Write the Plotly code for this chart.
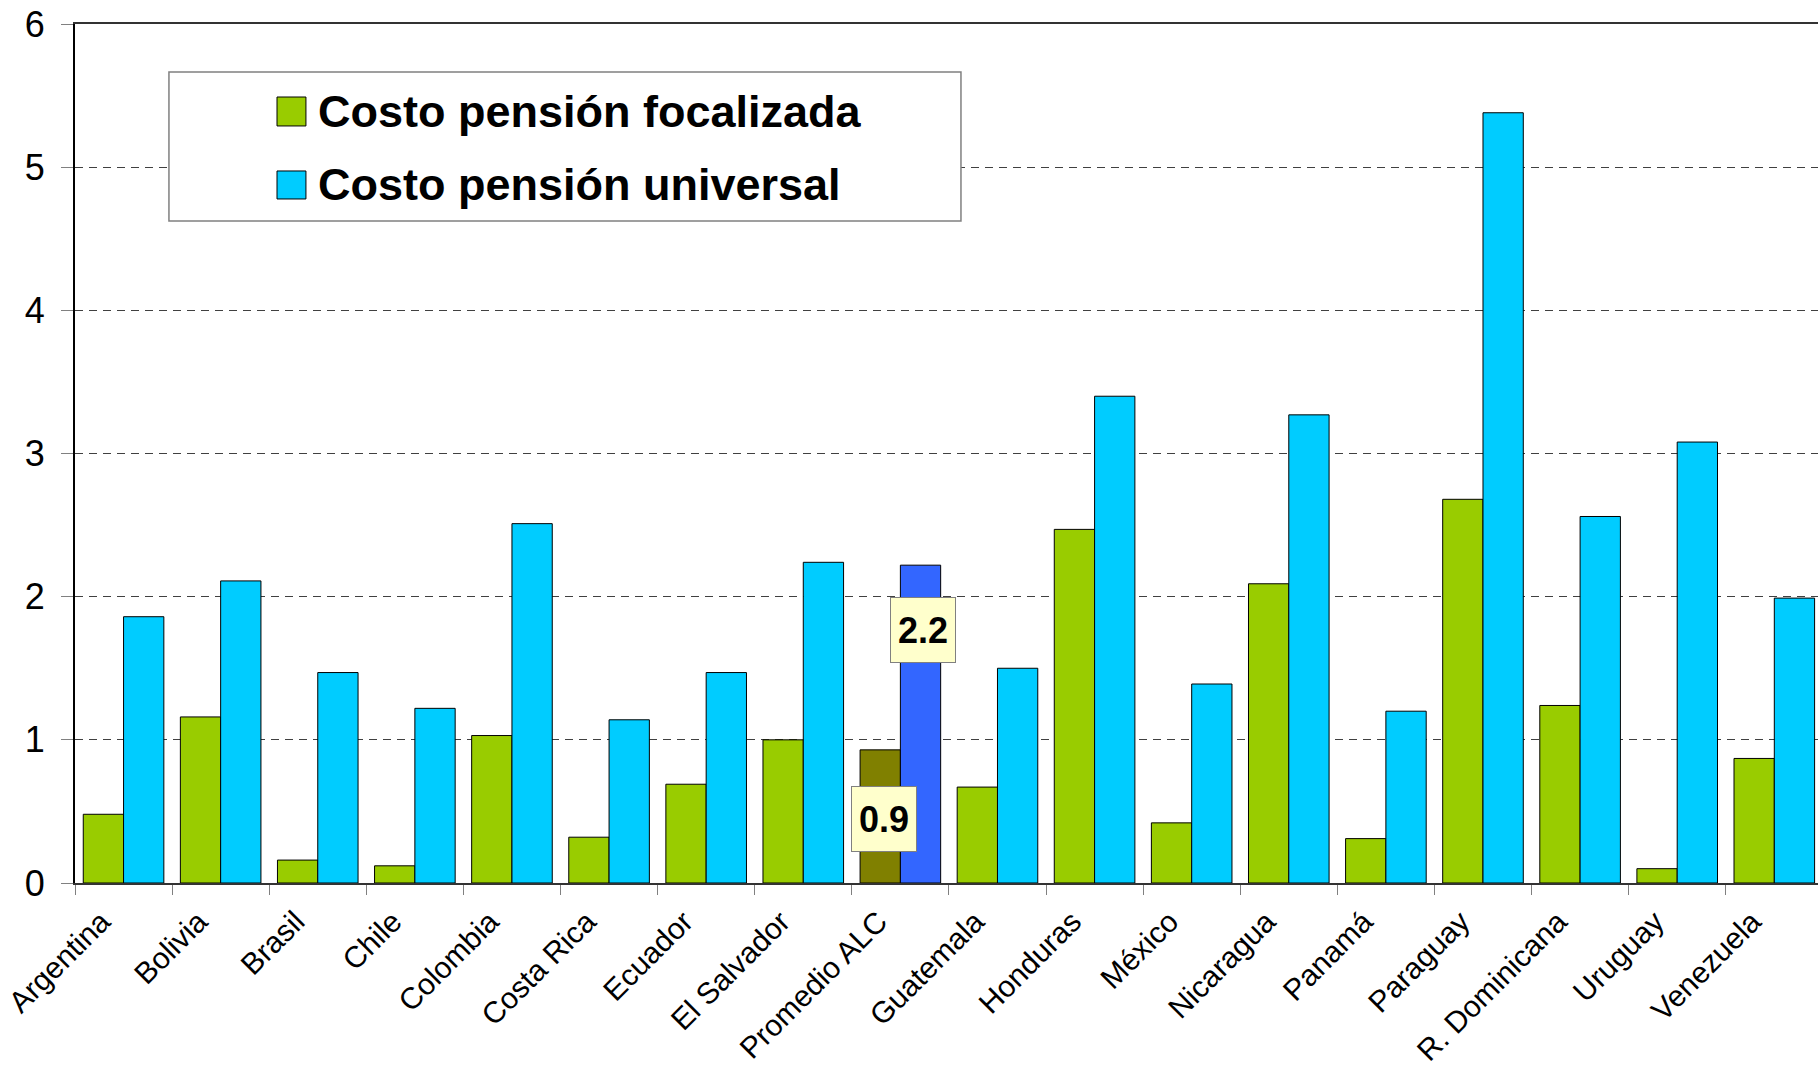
import plotly.graph_objects as go

countries = [
    "Argentina", "Bolivia", "Brasil", "Chile", "Colombia", "Costa Rica",
    "Ecuador", "El Salvador", "Promedio ALC", "Guatemala", "Honduras",
    "México", "Nicaragua", "Panamá", "Paraguay", "R. Dominicana",
    "Uruguay", "Venezuela",
]
focalizada = [0.48, 1.16, 0.16, 0.12, 1.03, 0.32, 0.69, 1.00, 0.93, 0.67,
              2.47, 0.42, 2.09, 0.31, 2.68, 1.24, 0.10, 0.87]
universal = [1.86, 2.11, 1.47, 1.22, 2.51, 1.14, 1.47, 2.24, 2.22, 1.50,
             3.40, 1.39, 3.27, 1.20, 5.38, 2.56, 3.08, 1.99]
series_names = ["Costo pensión focalizada", "Costo pensión universal"]
avg_labels = ["0.9", "2.2"]

GREEN = "#99CC00"
CYAN = "#00CCFF"
OLIVE = "#808000"
BLUE = "#3366FF"
FONT = "Liberation Sans, Arial, sans-serif"

# the regional average gets its own colours
green_colors = [OLIVE if c == "Promedio ALC" else GREEN for c in countries]
cyan_colors = [BLUE if c == "Promedio ALC" else CYAN for c in countries]

fig = go.Figure()
fig.add_trace(go.Bar(
    x=countries, y=focalizada, name=series_names[0],
    marker=dict(color=green_colors, line=dict(color="black", width=1)),
))
fig.add_trace(go.Bar(
    x=countries, y=universal, name=series_names[1],
    marker=dict(color=cyan_colors, line=dict(color="black", width=1)),
))

# value boxes on the average bars
avg_idx = countries.index("Promedio ALC")
for val, lab, dx, dy in [(focalizada[avg_idx], avg_labels[0], -16, -36),
                         (universal[avg_idx], avg_labels[1], 23, -32)]:
    fig.add_annotation(
        x=countries[avg_idx], y=val, text=f"<b>{lab}</b>",
        xshift=dx, yshift=dy, yanchor="top", showarrow=False,
        font=dict(family=FONT, size=36, color="black"),
        bgcolor="#FFFFCC", bordercolor="#808080", borderwidth=1,
        borderpad=2, width=60, height=60,
    )

# hand-drawn legend box (large swatches like the original)
fig.add_shape(type="rect", xref="paper", yref="paper",
              x0=0.0539, x1=0.5083, y0=0.7707, y1=0.9441,
              fillcolor="white", line=dict(color="#808080", width=1.5))
for name, col, y0, y1 in [(series_names[0], GREEN, 0.8813, 0.9150),
                          (series_names[1], CYAN, 0.7963, 0.8289)]:
    fig.add_shape(type="rect", xref="paper", yref="paper",
                  x0=0.1159, x1=0.1325, y0=y0, y1=y1,
                  fillcolor=col, line=dict(color="black", width=1))
    fig.add_annotation(
        xref="paper", yref="paper", x=0.1385, y=(y0 + y1) / 2,
        xanchor="left", yanchor="middle", showarrow=False,
        text=f"<b>{name}</b>",
        font=dict(family=FONT, size=45, color="black"),
    )

fig.update_layout(
    width=1818,
    height=1069,
    margin=dict(l=75, r=0, t=24, b=186),
    barmode="group",
    bargap=0.17,
    bargroupgap=0,
    showlegend=False,
    plot_bgcolor="white",
    paper_bgcolor="white",
    font=dict(family=FONT, size=28, color="black"),
)

fig.update_xaxes(
    type="category",
    range=[-0.5, 17.45],
    automargin=False,
    tickangle=-45,
    tickson="boundaries",
    ticks="outside",
    ticklen=10,
    tickcolor="#808080",
    ticklabelstandoff=7,
    ticklabelshift=-22,
    showline=True,
    linecolor="#333333",
    linewidth=2,
    mirror=True,
    showgrid=False,
    tickfont=dict(family=FONT, size=30),
)
fig.update_yaxes(
    range=[0, 6],
    dtick=1,
    automargin=False,
    ticks="outside",
    ticklen=12,
    tickcolor="#808080",
    ticklabelstandoff=9,
    showline=True,
    linecolor="black",
    linewidth=2,
    showgrid=True,
    gridcolor="#404040",
    gridwidth=1,
    griddash="8px,6px",
    zeroline=False,
    tickfont=dict(family=FONT, size=36),
)

# drop the default page margin so the figure sits at the window origin
fig.write_html(
    "out.html",
    config={"displayModeBar": False},
    post_script="document.body.style.margin='0';document.body.style.overflow='hidden';",
)
